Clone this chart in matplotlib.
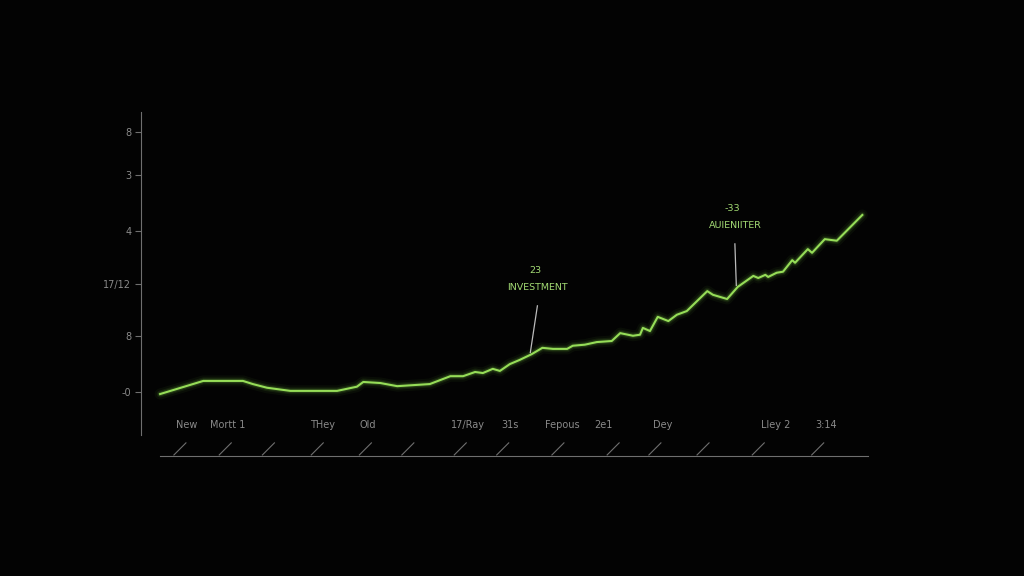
import matplotlib.pyplot as plt

# line data (x: position along the period, y: value)
x_vals = [0, 6.1, 11.7, 13.1, 15.1, 18.4, 25.0, 27.8, 28.7, 31.1, 33.5, 38.1, 41.0, 42.8,
          44.5, 45.6, 47.0, 48.0, 49.4, 50.8, 52.5, 54.0, 55.5, 57.5, 58.3, 60.0, 61.7,
          63.8, 65.0, 66.8, 67.8, 68.2, 69.2, 70.3, 71.8, 73.0, 74.4, 76.0, 77.3, 78.1,
          80.1, 81.6, 83.8, 84.5, 85.5, 85.9, 87.1, 88.0, 89.3, 89.7, 91.5, 92.1, 93.9,
          95.6, 99.2]
y_vals = [-0.04, 0.21, 0.21, 0.15, 0.08, 0.02, 0.02, 0.10, 0.19, 0.17, 0.11, 0.15, 0.30, 0.30,
          0.38, 0.36, 0.44, 0.40, 0.53, 0.61, 0.72, 0.84, 0.82, 0.82, 0.88, 0.90, 0.95,
          0.97, 1.12, 1.07, 1.09, 1.22, 1.16, 1.43, 1.35, 1.47, 1.54, 1.75, 1.92, 1.85,
          1.77, 2.00, 2.21, 2.17, 2.23, 2.19, 2.27, 2.29, 2.51, 2.46, 2.72, 2.65, 2.91,
          2.88, 3.37]

# y axis ticks
y_ticks = [0, 1.07, 2.06, 3.07, 4.13, 4.95]
y_labels = ['-0', '8', '17/12', '4', '3', '8']

# x axis labels and slash marks
x_label_pos = [3.7, 9.6, 22.9, 29.4, 43.5, 49.4, 56.8, 62.7, 71.0, 86.9, 94.1]
x_labels = ['New', 'Mortt 1', 'THey', 'Old', '17/Ray', '31s', 'Fepous', '2e1', 'Dey', 'Lley 2', '3:14']
slash_pos = [2.8, 9.2, 15.3, 22.2, 29.0, 35.0, 42.4, 48.4, 56.2, 64.0, 69.9, 76.7, 84.5, 92.9]

# annotations: (label value, label text, point x, point y, text x, line top y)
notes = [('23', 'INVESTMENT', 52.5, 0.72, 53.3, 1.64),
         ('-33', 'AUIENIITER', 81.6, 2.00, 81.2, 2.82)]

bg = '#030303'
green = '#80d447'
grey = '#8a8a8a'

fig = plt.figure(figsize=(10.24, 5.76), dpi=100, facecolor=bg)
ax = fig.add_axes([141 / 1024, 120 / 576, (880 - 141) / 1024, (456 - 100) / 576])
ax.set_facecolor(bg)
ax.set_xlim(-2.7, 101.7)
ax.set_ylim(-1.22, 5.56)

# glowing line
for lw, a in [(8, 0.05), (5, 0.09), (3.2, 0.16)]:
    ax.plot(x_vals, y_vals, color=green, lw=lw, alpha=a,
            solid_capstyle='round', solid_joinstyle='round')
ax.plot(x_vals, y_vals, color='#96dd58', lw=1.5, solid_joinstyle='round')

# spines
for s in ['top', 'right']:
    ax.spines[s].set_visible(False)
ax.spines['left'].set_color('#6f6f6f')
ax.spines['left'].set_linewidth(0.8)
ax.spines['left'].set_bounds(-0.82, 5.33)
ax.spines['bottom'].set_color('#6f6f6f')
ax.spines['bottom'].set_linewidth(0.8)
ax.spines['bottom'].set_bounds(0, 100)

ax.set_yticks(y_ticks)
ax.set_yticklabels(y_labels)
ax.tick_params(axis='y', colors='#6f6f6f', labelcolor=grey, labelsize=7, length=4, width=0.8, pad=3)
ax.set_xticks([])

for xp, lab in zip(x_label_pos, x_labels):
    ax.text(xp, -0.63, lab, color=grey, fontsize=7, ha='center', va='center')
for xp in slash_pos:
    ax.plot([xp - 0.85, xp + 0.85], [-1.2, -0.97], color='#6f6f6f', lw=0.8)

for val, txt, px, py, tx, ty in notes:
    ax.text(tx - 0.3, ty + 0.68, val, color='#a4dc74', fontsize=6.8, ha='center', va='center')
    ax.text(tx, ty + 0.35, txt, color='#a4dc74', fontsize=6.8, ha='center', va='center')
    ax.plot([tx, px - 0.2], [ty, py + 0.03], color='#bbbbbb', lw=0.9)

fig.savefig('out.png', dpi=100, facecolor=bg)
